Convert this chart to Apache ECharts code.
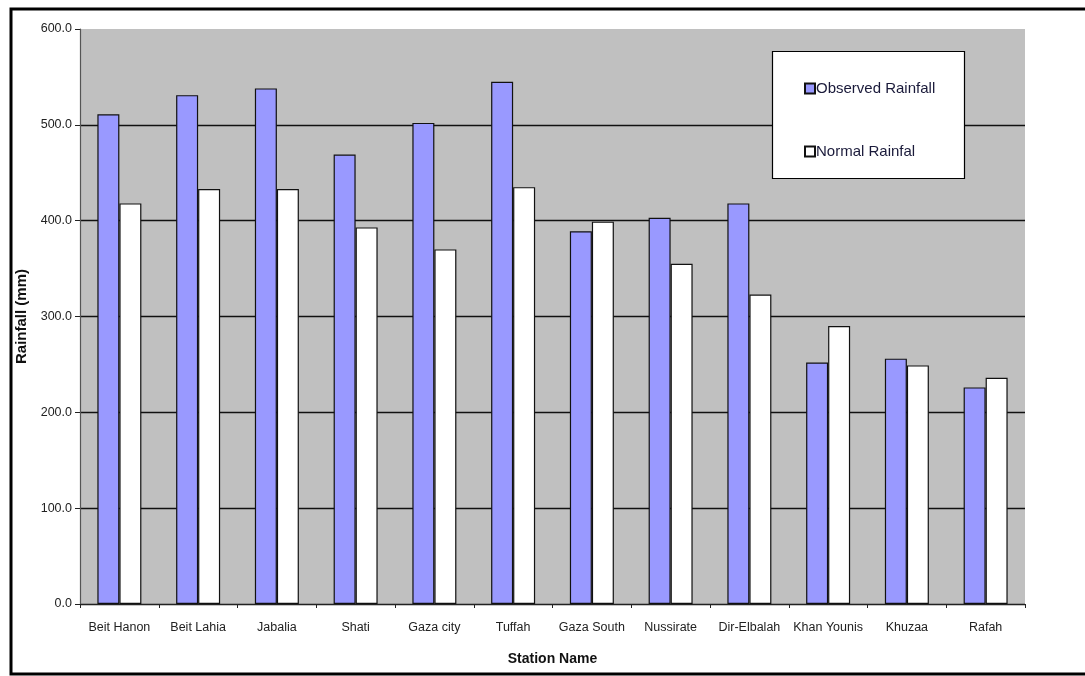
<!DOCTYPE html>
<html>
<head>
<meta charset="utf-8">
<script src="https://cdn.jsdelivr.net/npm/echarts@6/dist/echarts.min.js"></script>
<style>
  html, body { margin: 0; padding: 0; background: #ffffff; }
  #chart { width: 1085px; height: 676px; }
</style>
</head>
<body>
<div id="chart"></div>
<script>
// Rainfall per station: observed season vs long-term normal (mm)
const stations = ['Beit Hanon', 'Beit Lahia', 'Jabalia', 'Shati', 'Gaza city', 'Tuffah',
  'Gaza South', 'Nussirate', 'Dir-Elbalah', 'Khan Younis', 'Khuzaa', 'Rafah'];
const observedRainfall = [511, 531, 538, 469, 502, 545, 389, 403, 418, 252, 256, 226];
const normalRainfall = [418, 433, 433, 393, 370, 435, 399, 355, 323, 290, 249, 236];
const seriesNames = ['Observed Rainfall', 'Normal Rainfal'];

const FONT = '"Liberation Sans", Arial, sans-serif';
const chart = echarts.init(document.getElementById('chart'), null, { renderer: 'canvas' });

chart.setOption({
  animation: false,
  backgroundColor: '#ffffff',
  textStyle: { fontFamily: FONT },
  grid: {
    left: 80, right: 60, top: 29, bottom: 72,
    show: true, backgroundColor: '#c0c0c0', borderWidth: 0
  },
  graphic: [
    // outer frame
    { type: 'polyline', z: 100, silent: true,
      shape: { points: [[1090, 9], [11, 9], [11, 674], [1090, 674]] },
      style: { stroke: '#000', lineWidth: 3, fill: null } },
    // legend box
    { type: 'rect', z: 5, silent: true,
      shape: { x: 772.5, y: 51.5, width: 192, height: 127 },
      style: { fill: '#ffffff', stroke: '#000', lineWidth: 1.2 } }
  ],
  legend: {
    orient: 'vertical',
    left: 799, top: 76,
    itemGap: 48,
    itemWidth: 10, itemHeight: 10,
    icon: 'rect',
    z: 10,
    textStyle: { fontSize: 15, color: '#1a1a3a', fontFamily: FONT, padding: [0, 0, 0, -4] },
    data: seriesNames
  },
  xAxis: {
    type: 'category',
    data: stations,
    name: 'Station Name',
    nameLocation: 'middle',
    nameGap: 48,
    nameTextStyle: { fontSize: 14, fontWeight: 'bold', color: '#111' },
    axisLine: { lineStyle: { color: '#222', width: 1.2 } },
    axisTick: { show: true, inside: false, length: 4, interval: 0, lineStyle: { color: '#222' } },
    axisLabel: { fontSize: 12.5, color: '#222', margin: 17, interval: 0 }
  },
  yAxis: {
    type: 'value',
    min: 0, max: 600, interval: 100,
    name: 'Rainfall (mm)',
    nameLocation: 'middle',
    nameGap: 47,
    nameRotate: 90,
    nameTextStyle: { fontSize: 15, fontWeight: 'bold', color: '#111' },
    axisLine: { show: true, lineStyle: { color: '#555', width: 1.2 } },
    axisTick: { show: true, inside: false, length: 5, lineStyle: { color: '#222' } },
    axisLabel: { fontSize: 12.5, color: '#222', margin: 8, formatter: v => v.toFixed(1) },
    splitLine: { show: true, showMaxLine: false, lineStyle: { color: '#111', width: 1.3 } }
  },
  series: [
    {
      name: seriesNames[0],
      type: 'bar',
      data: observedRainfall,
      barWidth: 22,
      barGap: '0%',
      itemStyle: { color: '#9999ff', borderColor: '#111', borderWidth: 1.2 }
    },
    {
      name: seriesNames[1],
      type: 'bar',
      data: normalRainfall,
      barWidth: 22,
      barGap: '0%',
      itemStyle: { color: '#ffffff', borderColor: '#111', borderWidth: 1.2 }
    }
  ]
});
</script>
</body>
</html>
